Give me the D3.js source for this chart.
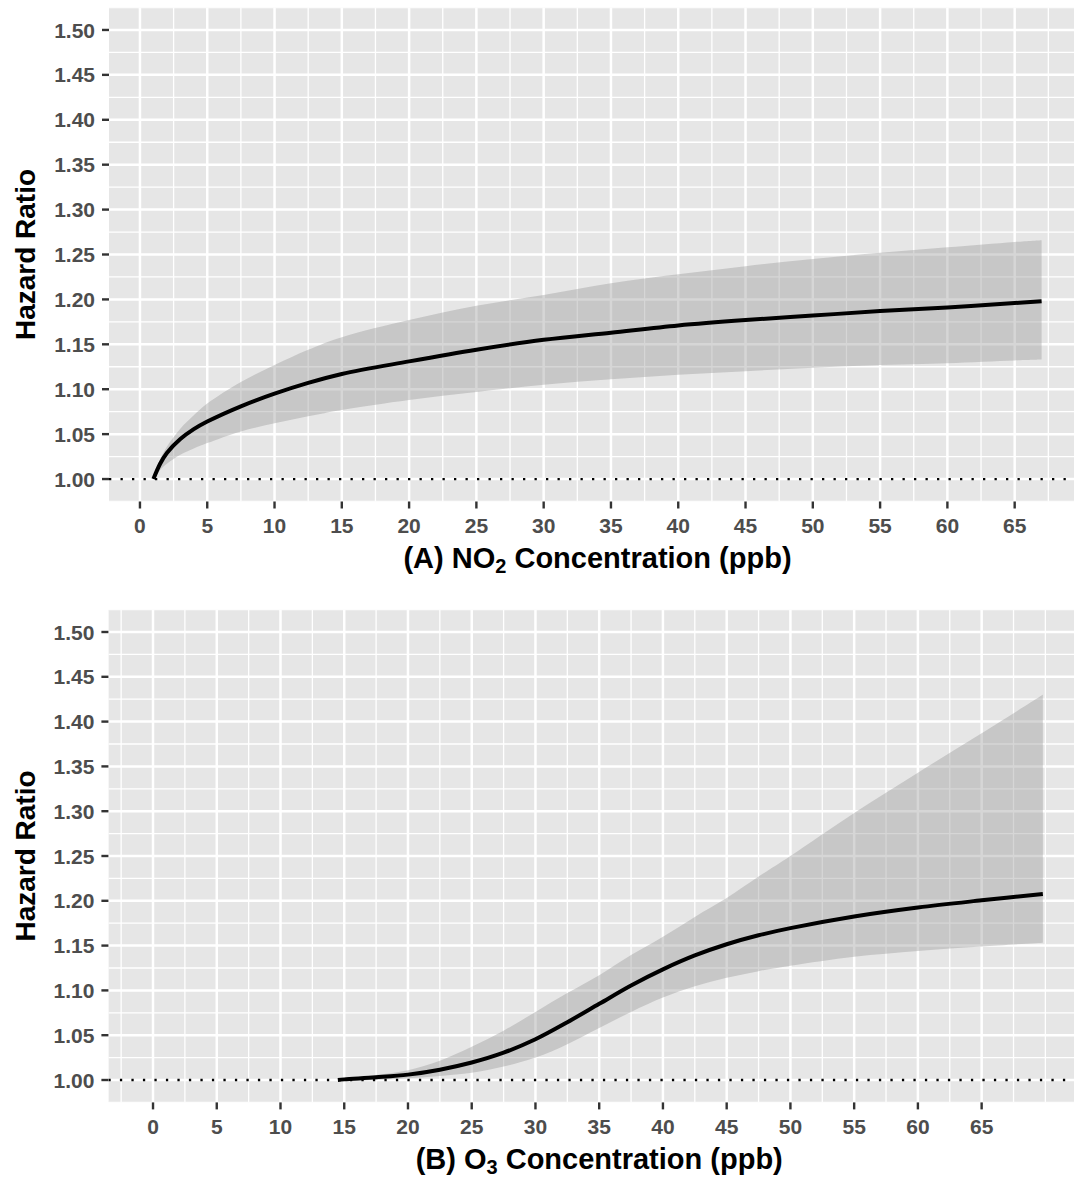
<!DOCTYPE html>
<html>
<head>
<meta charset="utf-8">
<script src="https://cdn.jsdelivr.net/npm/d3@7"></script>
<style>
  body { margin: 0; background: #fff; }
  svg { display: block; font-family: "Liberation Sans", Arial, Helvetica, sans-serif; font-weight: bold; }
</style>
</head>
<body>
<svg id="chart" width="1074" height="1177"></svg>
<script>
// ---- data ----
var no2X   = [1, 1.5, 2, 3, 4, 5, 7.5, 10, 12.5, 15, 20, 25, 30, 35, 40, 45, 50, 55, 60, 65, 67];
var no2Fit = [1.000, 1.017, 1.029, 1.0445, 1.0555, 1.064, 1.081, 1.095, 1.107, 1.117, 1.131, 1.144, 1.155, 1.163, 1.171, 1.177, 1.182, 1.187, 1.191, 1.196, 1.198];
var no2Lo  = [0.999, 1.010, 1.017, 1.027, 1.034, 1.040, 1.053, 1.062, 1.070, 1.077, 1.088, 1.097, 1.105, 1.111, 1.116, 1.120, 1.124, 1.127, 1.129, 1.132, 1.133];
var no2Hi  = [1.003, 1.022, 1.036, 1.056, 1.071, 1.084, 1.108, 1.127, 1.144, 1.158, 1.177, 1.193, 1.205, 1.218, 1.228, 1.237, 1.245, 1.252, 1.258, 1.264, 1.266];

var o3X   = [14.5, 15, 17.5, 20, 22.5, 25, 27.5, 30, 32.5, 35, 37.5, 40, 42.5, 45, 47.5, 50, 55, 60, 65, 69.8];
var o3Fit = [1.000, 1.0007, 1.003, 1.006, 1.0115, 1.0195, 1.0305, 1.0455, 1.0645, 1.085, 1.1055, 1.1235, 1.139, 1.1515, 1.1615, 1.1695, 1.1825, 1.1925, 1.2005, 1.2076];
var o3Lo  = [1.000, 0.999, 1.000, 1.002, 1.0045, 1.008, 1.015, 1.025, 1.040, 1.058, 1.076, 1.092, 1.1045, 1.114, 1.1215, 1.1275, 1.1375, 1.144, 1.149, 1.1533];
var o3Hi  = [1.000, 1.001, 1.0056, 1.011, 1.0216, 1.037, 1.055, 1.076, 1.097, 1.117, 1.1395, 1.160, 1.182, 1.203, 1.227, 1.250, 1.298, 1.343, 1.387, 1.430];

var xTickLabels = [0, 5, 10, 15, 20, 25, 30, 35, 40, 45, 50, 55, 60, 65];
var yTickLabels = [1.00, 1.05, 1.10, 1.15, 1.20, 1.25, 1.30, 1.35, 1.40, 1.45, 1.50];
var refLine = 1.00;

var svg = d3.select("#chart");

var panels = [
  { id: "a", x: no2X, fit: no2Fit, lo: no2Lo, hi: no2Hi,
    xDomain: [-2.3, 70.3], left: 109, right: 1086, top: 7.5, bottom: 501.5,
    title: ["(A) NO", "2", " Concentration (ppb)"] },
  { id: "b", x: o3X, fit: o3Fit, lo: o3Lo, hi: o3Hi,
    xDomain: [-3.5, 73.5], left: 108.4, right: 1090, top: 609.6, bottom: 1102.4,
    title: ["(B) O", "3", " Concentration (ppb)"] }
];

// ggplot style minor breaks: midpoints between majors, extended one step each side
function minorBreaks(majors, domain) {
  var step = majors[1] - majors[0];
  var ext = [majors[0] - step].concat(majors, [majors[majors.length - 1] + step]);
  var out = [];
  for (var i = 0; i < ext.length - 1; i++) {
    out.push((ext[i] + ext[i + 1]) / 2);
  }
  out.push(ext[ext.length - 1]);
  return out.filter(function(v) { return v >= domain[0] && v <= domain[1]; });
}

var smooth = d3.curveCatmullRom.alpha(0.5);

panels.forEach(function(p) {
  var x = d3.scaleLinear().domain(p.xDomain).range([p.left, p.right]);
  var y = d3.scaleLinear().domain([0.975, 1.525]).range([p.bottom, p.top]);

  svg.append("clipPath").attr("id", "clip-" + p.id)
    .append("rect")
    .attr("x", p.left).attr("y", p.top)
    .attr("width", p.right - p.left).attr("height", p.bottom - p.top);

  var g = svg.append("g").attr("clip-path", "url(#clip-" + p.id + ")");

  g.append("rect")
    .attr("x", p.left).attr("y", p.top)
    .attr("width", p.right - p.left).attr("height", p.bottom - p.top)
    .attr("fill", "#e6e6e6");

  // minor grid
  g.selectAll(".xminor").data(minorBreaks(xTickLabels, p.xDomain)).enter().append("line")
    .attr("x1", function(d) { return x(d); }).attr("x2", function(d) { return x(d); })
    .attr("y1", p.top).attr("y2", p.bottom)
    .attr("stroke", "#fff").attr("stroke-width", 1.3);
  g.selectAll(".yminor").data(minorBreaks(yTickLabels, y.domain())).enter().append("line")
    .attr("y1", function(d) { return y(d); }).attr("y2", function(d) { return y(d); })
    .attr("x1", p.left).attr("x2", p.right)
    .attr("stroke", "#fff").attr("stroke-width", 1.3);

  // major grid
  g.selectAll(".xmajor").data(xTickLabels).enter().append("line")
    .attr("x1", function(d) { return x(d); }).attr("x2", function(d) { return x(d); })
    .attr("y1", p.top).attr("y2", p.bottom)
    .attr("stroke", "#fff").attr("stroke-width", 2.5);
  g.selectAll(".ymajor").data(yTickLabels).enter().append("line")
    .attr("y1", function(d) { return y(d); }).attr("y2", function(d) { return y(d); })
    .attr("x1", p.left).attr("x2", p.right)
    .attr("stroke", "#fff").attr("stroke-width", 2.5);

  var rows = p.x.map(function(v, i) { return { x: v, fit: p.fit[i], lo: p.lo[i], hi: p.hi[i] }; });

  // confidence ribbon
  g.append("path").datum(rows)
    .attr("d", d3.area().curve(smooth)
      .x(function(d) { return x(d.x); })
      .y0(function(d) { return y(d.lo); })
      .y1(function(d) { return y(d.hi); }))
    .attr("fill", "#999999").attr("fill-opacity", 0.4);

  // dotted reference line
  g.append("line")
    .attr("x1", p.left).attr("x2", p.right)
    .attr("y1", y(refLine)).attr("y2", y(refLine))
    .attr("stroke", "#000").attr("stroke-width", 2.3)
    .attr("stroke-dasharray", "2.3 9.2");

  // fitted curve
  g.append("path").datum(rows)
    .attr("d", d3.line().curve(smooth)
      .x(function(d) { return x(d.x); })
      .y(function(d) { return y(d.fit); }))
    .attr("fill", "none").attr("stroke", "#000").attr("stroke-width", 4);

  // y axis ticks and labels
  var yAxis = svg.append("g");
  yAxis.selectAll("line").data(yTickLabels).enter().append("line")
    .attr("x1", p.left - 7).attr("x2", p.left)
    .attr("y1", function(d) { return y(d); }).attr("y2", function(d) { return y(d); })
    .attr("stroke", "#333").attr("stroke-width", 2.4);
  yAxis.selectAll("text").data(yTickLabels).enter().append("text")
    .attr("x", p.left - 14).attr("y", function(d) { return y(d); })
    .attr("dy", "0.36em")
    .attr("text-anchor", "end")
    .attr("font-size", 21).attr("fill", "#4d4d4d")
    .text(function(d) { return d3.format(".2f")(d); });

  // x axis ticks and labels
  var xAxis = svg.append("g");
  xAxis.selectAll("line").data(xTickLabels).enter().append("line")
    .attr("x1", function(d) { return x(d); }).attr("x2", function(d) { return x(d); })
    .attr("y1", p.bottom).attr("y2", p.bottom + 7)
    .attr("stroke", "#333").attr("stroke-width", 2.4);
  xAxis.selectAll("text").data(xTickLabels).enter().append("text")
    .attr("x", function(d) { return x(d); }).attr("y", p.bottom + 31.5)
    .attr("text-anchor", "middle")
    .attr("font-size", 21).attr("fill", "#4d4d4d")
    .text(function(d) { return d; });

  // axis titles
  var t = svg.append("text")
    .attr("x", (p.left + p.right) / 2).attr("y", p.bottom + 66.5)
    .attr("text-anchor", "middle")
    .attr("font-size", 29).attr("fill", "#000");
  t.append("tspan").text(p.title[0]);
  t.append("tspan").attr("font-size", 20).attr("dy", 5).text(p.title[1]);
  t.append("tspan").attr("dy", -5).text(p.title[2]);

  svg.append("text")
    .attr("transform", "translate(35," + ((p.top + p.bottom) / 2) + ") rotate(-90)")
    .attr("text-anchor", "middle")
    .attr("font-size", 28).attr("fill", "#000")
    .text("Hazard Ratio");
});
</script>
</body>
</html>
